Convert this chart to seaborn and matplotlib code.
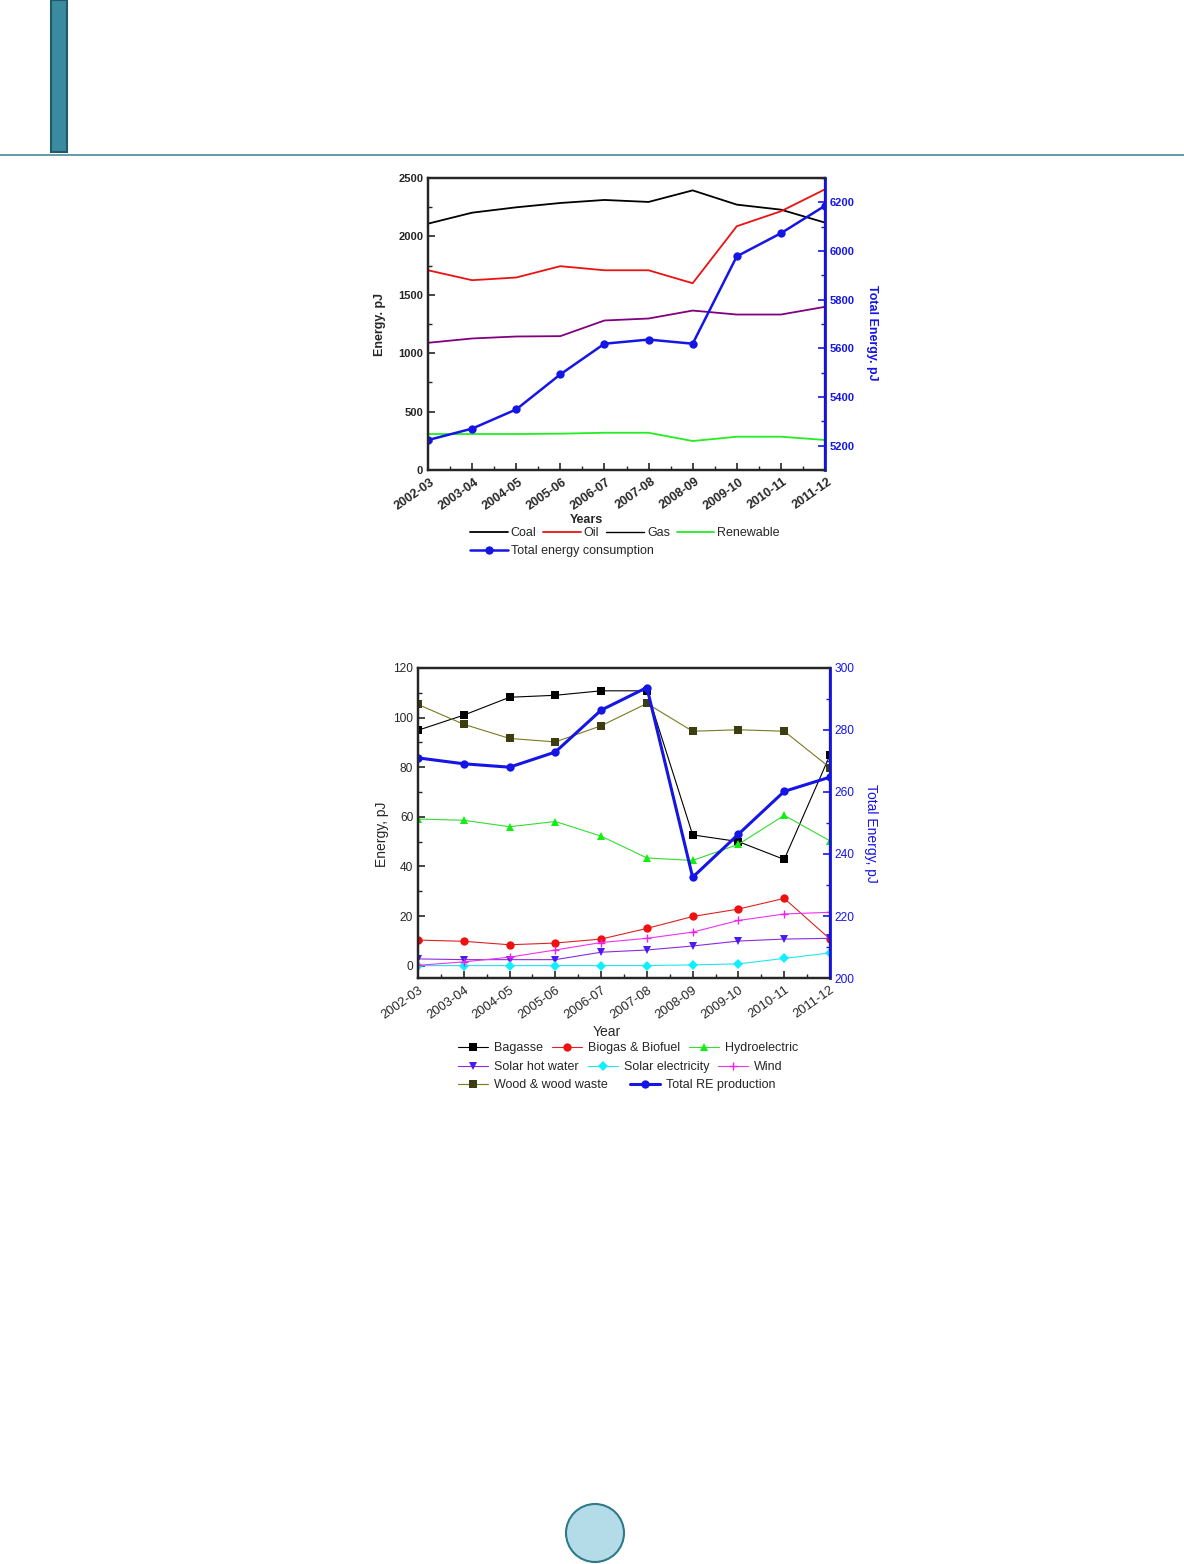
import numpy as np
import pandas as pd
import matplotlib
matplotlib.use("Agg")
import matplotlib.pyplot as plt
import matplotlib.transforms as mtransforms
import seaborn as sns
from matplotlib.ticker import MultipleLocator
from matplotlib.patches import Rectangle, Circle
from matplotlib.lines import Line2D

# dados
anos = ["2002-03", "2003-04", "2004-05", "2005-06", "2006-07",
        "2007-08", "2008-09", "2009-10", "2010-11", "2011-12"]

# grafico 1 - consumo de energia (pJ)
carvao = [2109, 2203, 2249, 2286, 2312, 2295, 2394, 2272, 2229, 2118]
petroleo = [1710, 1625, 1648, 1745, 1710, 1710, 1599, 2087, 2215, 2403]
gas = [1089, 1126, 1143, 1146, 1280, 1297, 1365, 1331, 1331, 1397]
renovavel = [308, 308, 308, 311, 319, 319, 248, 285, 285, 257]
total_consumo = [5223, 5270, 5349, 5493, 5619, 5636, 5619, 5978, 6073, 6186]

# grafico 2 - producao renovavel (pJ)
bagaco = [94.9, 101.0, 108.2, 109.0, 110.8, 110.8, 52.7, 50.0, 42.8, 84.9]
biogas = [10.3, 9.8, 8.4, 9.1, 10.7, 15.0, 19.8, 22.8, 27.1, 10.7]
hidro = [59.1, 58.6, 56.0, 58.1, 52.2, 43.4, 42.4, 48.9, 60.6, 50.3]
solar_agua = [2.7, 2.4, 2.4, 2.4, 5.4, 6.3, 7.9, 9.9, 10.7, 11.0]
solar_elet = [0.0, 0.0, 0.0, 0.0, 0.0, 0.0, 0.3, 0.7, 2.9, 5.1]
vento = [0.1, 1.5, 3.4, 6.3, 9.3, 11.0, 13.5, 18.2, 20.8, 21.5]
madeira = [105.3, 97.3, 91.6, 90.2, 96.7, 105.7, 94.5, 95.1, 94.5, 79.8]
total_re = [271.0, 269.1, 268.0, 272.9, 286.4, 293.7, 232.5, 246.4, 260.2, 264.8]

sns.set_style("ticks")
plt.rcParams['font.family'] = ['Liberation Sans', 'DejaVu Sans']
plt.rcParams['xtick.direction'] = 'in'
plt.rcParams['ytick.direction'] = 'in'

W, H = 1184, 1564
fig = plt.figure(figsize=(W / 100, H / 100), dpi=100)
azul = '#1515e6'

# elementos da pagina
teal = '#2f7a8a'
fig.patches.append(Rectangle((51 / W, 1 - 152 / H), 16 / W, 152 / H,
                             transform=fig.transFigure, facecolor='#3a8aa0',
                             edgecolor='#1f5a66', lw=1.5))
fig.add_artist(Line2D([0, 1], [1 - 155 / H] * 2, transform=fig.transFigure,
                      color='#4a8a98', lw=1.2))
fig.patches.append(Circle((5.95, (H - 1533) / 100), 0.29,
                          transform=fig.dpi_scale_trans, facecolor='#b3dbe8',
                          edgecolor=teal, lw=1.5))


def px(x, y):
    # pixel -> fracao da figura
    return (x / W, 1 - y / H)


def estilo_eixos(ax, ax2, negrito, tam_x, tam_y, rot, dx):
    peso = 'bold' if negrito else 'normal'
    for s in ax.spines.values():
        s.set_linewidth(1.6)
        s.set_color('black')
    for s in ax2.spines.values():
        s.set_linewidth(1.6)
    ax2.spines['right'].set_color(azul)
    ax2.spines['right'].set_linewidth(2.0)
    ax.set_xlim(0, len(anos) - 1)
    ax.xaxis.set_minor_locator(MultipleLocator(0.5))
    ax.tick_params(axis='both', which='major', length=5, width=1.2, top=False)
    ax.tick_params(axis='both', which='minor', length=3, width=1.0, top=False)
    ax.tick_params(axis='y', labelsize=tam_y)
    ax2.tick_params(axis='y', which='major', length=5, width=1.2, colors=azul,
                    labelsize=tam_y)
    ax2.tick_params(axis='y', which='minor', length=3, width=1.0, colors=azul)
    desloc = mtransforms.ScaledTranslation(dx / 100, -1 / 100, fig.dpi_scale_trans)
    for lab in ax.get_xticklabels():
        lab.set_rotation(rot)
        lab.set_ha('right')
        lab.set_va('top')
        lab.set_rotation_mode('anchor')
        lab.set_fontweight(peso)
        lab.set_fontsize(tam_x)
        lab.set_transform(lab.get_transform() + desloc)
    for lab in ax.get_yticklabels():
        lab.set_fontweight(peso)
    for lab in ax2.get_yticklabels():
        lab.set_fontweight(peso)
        lab.set_color(azul)


# ---------- grafico 1 ----------
ax1 = fig.add_axes([428 / W, 1 - 470 / H, 397 / W, 292 / H])
ax1b = ax1.twinx()
series1 = [("Coal", carvao, 'black'), ("Oil", petroleo, '#ee1111'),
           ("Gas", gas, '#800080'), ("Renewable", renovavel, '#22ee22')]
for nome, vals, cor in series1:
    sns.lineplot(x=anos, y=vals, ax=ax1, color=cor, lw=1.3, label=nome, legend=False)
sns.lineplot(x=anos, y=total_consumo, ax=ax1b, color=azul, lw=1.8,
             marker='o', markersize=6, markeredgewidth=0,
             label="Total energy consumption", legend=False)
ax1.set_ylim(0, 2500)
ax1.yaxis.set_major_locator(MultipleLocator(500))
ax1.yaxis.set_minor_locator(MultipleLocator(250))
ax1b.set_ylim(5100, 6300)
ax1b.yaxis.set_major_locator(MultipleLocator(200))
ax1b.yaxis.set_minor_locator(MultipleLocator(100))
estilo_eixos(ax1, ax1b, True, 9, 8, 35, 2)
ax1.set_xlabel("Years", fontsize=9, fontweight='bold')
ax1.xaxis.set_label_coords((586 - 428) / 397, (470 - 514) / 292)
ax1.set_ylabel("Energy. pJ", fontsize=9, fontweight='bold')
ax1.yaxis.set_label_coords((386 - 428) / 397, 0.497)
ax1b.set_ylabel("Total Energy. pJ", fontsize=9, fontweight='bold', color=azul,
                rotation=270, va='bottom')
ax1b.yaxis.set_label_coords((866 - 428) / 397, 0.47)

h1, l1 = ax1.get_legend_handles_labels()
h1b, l1b = ax1b.get_legend_handles_labels()
# no original a linha do Gas aparece preta na legenda
h1[2] = Line2D([], [], color='black', lw=1.0)
leg_kw = dict(frameon=False, borderpad=0, borderaxespad=0, loc='center left')
fig.legend(h1, l1, ncol=4, bbox_to_anchor=px(470, 533), fontsize=9,
           handlelength=3.0, handletextpad=0.25, columnspacing=0.55, **leg_kw)
fig.legend(h1b, l1b, ncol=1, bbox_to_anchor=px(470, 551), fontsize=9,
           handlelength=3.0, handletextpad=0.25, **leg_kw)

# ---------- grafico 2 ----------
ax2 = fig.add_axes([418 / W, 1 - 978 / H, 412 / W, 310 / H])
ax2b = ax2.twinx()
series2 = [("Bagasse", bagaco, 'black', 'black', 's'),
           ("Biogas & Biofuel", biogas, '#dd2222', '#ee1111', 'o'),
           ("Hydroelectric", hidro, '#33dd33', '#11ee11', '^'),
           ("Solar hot water", solar_agua, '#8a2be2', '#4b1af0', 'v'),
           ("Solar electricity", solar_elet, '#22e5ee', '#11eeff', 'D'),
           ("Wind", vento, '#ee33ee', '#ee22ee', '+'),
           ("Wood & wood waste", madeira, '#7a7a20', '#3d3d12', 's')]
for nome, vals, cor, cor_m, mk in series2:
    sns.lineplot(x=anos, y=vals, ax=ax2, color=cor, lw=0.8, marker=mk,
                 markersize=6 if mk != 'D' else 5,
                 markerfacecolor=cor_m, markeredgecolor=cor_m,
                 markeredgewidth=1.0 if mk == '+' else 0,
                 label=nome, legend=False)
sns.lineplot(x=anos, y=total_re, ax=ax2b, color=azul, lw=2.2,
             marker='o', markersize=6, markeredgewidth=0,
             label="Total RE production", legend=False)
ax2.set_ylim(-5, 120)
ax2.yaxis.set_major_locator(MultipleLocator(20))
ax2.yaxis.set_minor_locator(MultipleLocator(10))
ax2b.set_ylim(200, 300)
ax2b.yaxis.set_major_locator(MultipleLocator(20))
ax2b.yaxis.set_minor_locator(MultipleLocator(10))
estilo_eixos(ax2, ax2b, False, 9.3, 8.6, 35, 0)
ax2.set_xlabel("Year", fontsize=10)
ax2.xaxis.set_label_coords((607 - 418) / 412, (978 - 1025) / 310)
ax2.set_ylabel("Energy, pJ", fontsize=10)
ax2.yaxis.set_label_coords((389 - 418) / 412, 0.465)
ax2b.set_ylabel("Total Energy, pJ", fontsize=10, color=azul,
                rotation=270, va='bottom')
ax2b.yaxis.set_label_coords((864 - 418) / 412, 0.468)

h2, l2 = ax2.get_legend_handles_labels()
h2b, l2b = ax2b.get_legend_handles_labels()
leg2_kw = dict(fontsize=9, handlelength=2.4, handletextpad=0.48, **leg_kw)
fig.legend(h2[0:3], l2[0:3], ncol=3, bbox_to_anchor=px(458, 1048),
           columnspacing=0.72, **leg2_kw)
fig.legend(h2[3:6], l2[3:6], ncol=3, bbox_to_anchor=px(458, 1067),
           columnspacing=0.72, **leg2_kw)
fig.legend([h2[6], h2b[0]], [l2[6], l2b[0]], ncol=2,
           bbox_to_anchor=px(458, 1085), columnspacing=1.75, **leg2_kw)

fig.savefig("out.png", dpi=100)
